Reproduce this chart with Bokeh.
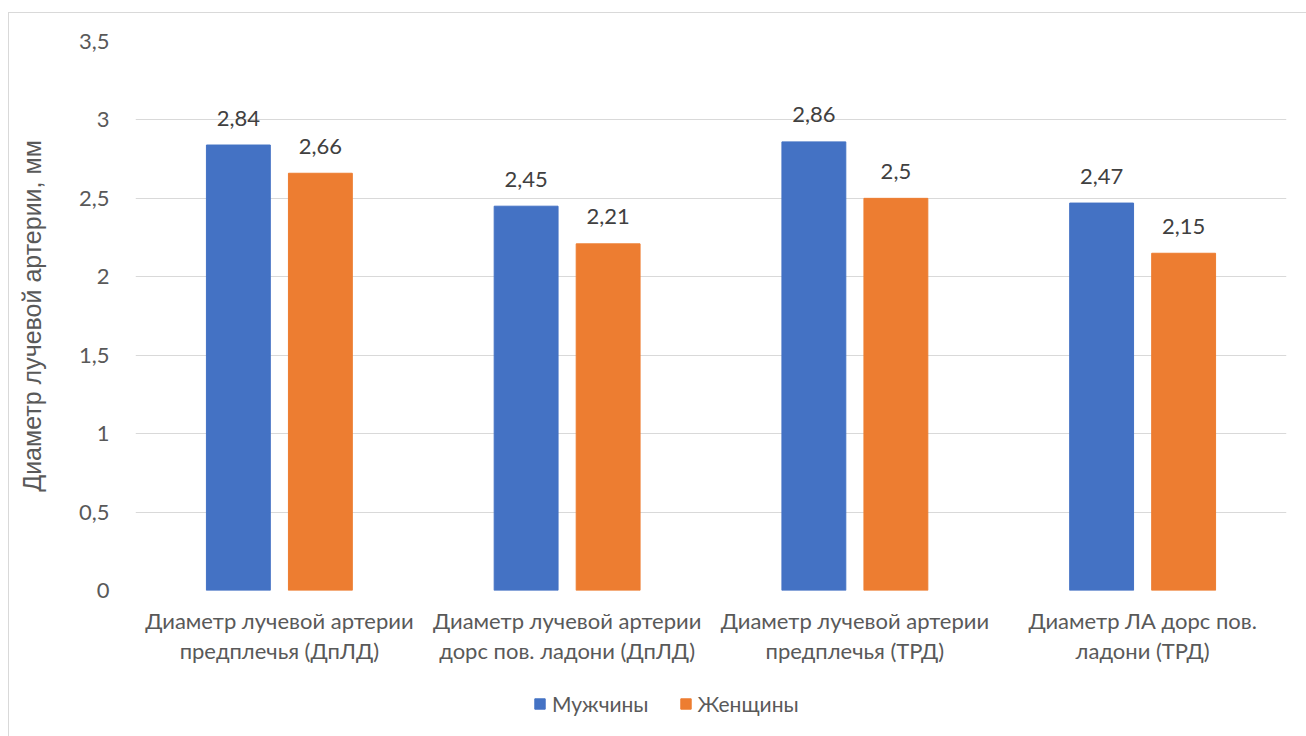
from bokeh.plotting import figure
from bokeh.layouts import column
from bokeh.models import FactorRange, Range1d, ColumnDataSource, Legend, LegendItem, CustomJSTickFormatter, FixedTicker
from bokeh.transform import dodge
from bokeh.core.properties import value
from bokeh.embed import file_html
from bokeh.resources import INLINE

category_labels = [
    "Диаметр лучевой артерии\nпредплечья (ДпЛД)",
    "Диаметр лучевой артерии\nдорс пов. ладони (ДпЛД)",
    "Диаметр лучевой артерии\nпредплечья (ТРД)",
    "Диаметр ЛА дорс пов.\nладони (ТРД)",
]
men = [2.84, 2.45, 2.86, 2.47]
women = [2.66, 2.21, 2.50, 2.15]
series_names = ["Мужчины", "Женщины"]
y_ticks = [0, 0.5, 1, 1.5, 2, 2.5, 3, 3.5]
y_title = "Диаметр лучевой артерии, мм"

def fmt(v):
    return ("%g" % v).replace(".", ",")

src = ColumnDataSource(dict(
    cat=category_labels, men=men, women=women,
    men_lbl=[fmt(v) for v in men], women_lbl=[fmt(v) for v in women],
))

FONT = "Lato"
TXT = "#595959"
BLUE = "#4472C4"
ORANGE = "#ED7D31"

# main chart: page x 9..1306, y 13..680 ; frame 135..1286 x 41..590
p = figure(
    x_range=FactorRange(*category_labels), y_range=Range1d(0, 3.5),
    width=1297, height=667, output_backend="svg", toolbar_location=None,
    min_border_left=126, min_border_right=20, min_border_top=28, min_border_bottom=90,
)
p.outline_line_color = None
p.background_fill_color = "white"
p.border_fill_color = "white"

p.vbar(x=dodge("cat", -0.1425, range=p.x_range), top="men", width=0.222,
       source=src, color=BLUE)
p.vbar(x=dodge("cat", 0.1425, range=p.x_range), top="women", width=0.222,
       source=src, color=ORANGE)

p.text(x=dodge("cat", -0.1425, range=p.x_range), y="men", text="men_lbl", source=src,
       text_align="center", text_baseline="middle", y_offset=-27,
       text_font=value(FONT), text_font_size="22px", text_color="#404040")
p.text(x=dodge("cat", 0.1425, range=p.x_range), y="women", text="women_lbl", source=src,
       text_align="center", text_baseline="middle", y_offset=-27,
       text_font=value(FONT), text_font_size="22px", text_color="#404040")

p.xgrid.grid_line_color = None
p.ygrid.grid_line_color = "#D9D9D9"
p.ygrid.grid_line_width = 1

p.yaxis.ticker = FixedTicker(ticks=y_ticks)
p.yaxis.formatter = CustomJSTickFormatter(code="return tick.toString().replace('.', ',');")
for ax in (p.xaxis, p.yaxis):
    ax.axis_line_color = None
    ax.major_tick_line_color = None
    ax.minor_tick_line_color = None
    ax.major_label_text_font = FONT
    ax.major_label_text_font_size = "22px"
    ax.major_label_text_color = TXT
p.yaxis.major_label_standoff = 20
p.xaxis.major_label_standoff = 10
p.xaxis.major_label_text_line_height = 1.12

p.yaxis.axis_label = y_title
p.yaxis.axis_label_text_font = "Liberation Sans"
p.yaxis.axis_label_text_font_style = "normal"
p.yaxis.axis_label_text_font_size = "25px"
p.yaxis.axis_label_text_color = TXT
p.yaxis.axis_label_standoff = 30

# legend strip below the chart: page y 680..736
lg = figure(
    x_range=p.x_range, y_range=Range1d(0, 1),
    width=1297, height=56, output_backend="svg", toolbar_location=None,
    x_axis_location=None, y_axis_location=None,
    min_border_left=0, min_border_right=0, min_border_top=0, min_border_bottom=0,
)
lg.outline_line_color = None
lg.grid.visible = False
lr1 = lg.vbar(x="cat", top="men", width=0.2, source=src, color=BLUE, visible=False)
lr2 = lg.vbar(x="cat", top="women", width=0.2, source=src, color=ORANGE, visible=False)
legend = Legend(items=[LegendItem(label=series_names[0], renderers=[lr1]),
                       LegendItem(label=series_names[1], renderers=[lr2])],
                orientation="horizontal", location=(398, 20),
                label_text_font=FONT, label_text_font_size="21px", label_text_color=TXT,
                glyph_width=13, glyph_height=13, spacing=30, label_standoff=6,
                border_line_color=None, background_fill_color=None,
                inactive_fill_alpha=0, margin=0, padding=0)
lg.add_layout(legend, "center")

layout = column(p, lg, margin=(12, 0, 0, 8), spacing=0,
                styles={"border-left": "1px solid #D9D9D9", "border-top": "1px solid #D9D9D9",
                        "background": "white"})

open("out.html", "w").write(file_html(layout, INLINE))
